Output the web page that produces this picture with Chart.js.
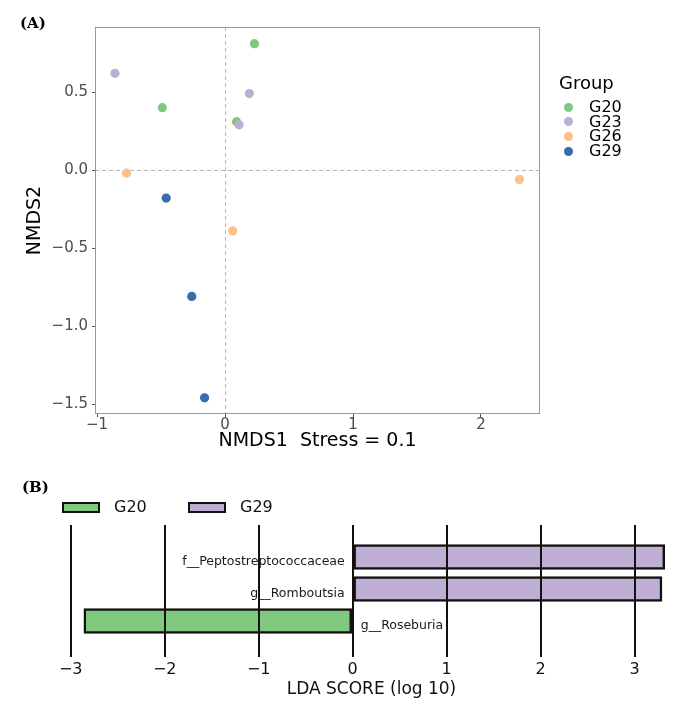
<!DOCTYPE html>
<html>
<head>
<meta charset="utf-8">
<script src="https://cdn.jsdelivr.net/npm/chart.js@4/dist/chart.umd.min.js"></script>
<style>
  body { margin: 0; background: #fff; }
  #wrap { position: relative; width: 677px; height: 706px; overflow: hidden; font-family: "DejaVu Sans", sans-serif; color: #000; }
  canvas { position: absolute; left: 0; }
  #nmds { top: 0; }
  #lefse { top: 455px; }
  .tag { position: absolute; font-family: "DejaVu Serif", serif; font-weight: bold; font-size: 15px; line-height: 16px; }
  .abs { position: absolute; white-space: nowrap; }
</style>
</head>
<body>
<div id="wrap">
  <canvas id="nmds" width="677" height="455"></canvas>
  <canvas id="lefse" width="677" height="251"></canvas>
  <div class="tag" style="left:20px;top:15px">(A)</div>
  <div class="tag" style="left:22px;top:479px">(B)</div>
  <div id="legendA"></div>
  <div id="legendB"></div>
</div>
<script>
// panel A: NMDS ordination
const groups = ['G20', 'G23', 'G26', 'G29']
const groupColors = ['#7fc97f', '#beaed4', '#fdc086', '#386cb0']
const g20X = [0.23, -0.49, 0.09]
const g20Y = [0.81, 0.40, 0.31]
const g23X = [-0.86, 0.19, 0.11]
const g23Y = [0.62, 0.49, 0.29]
const g26X = [-0.77, 0.06, 2.30]
const g26Y = [-0.02, -0.39, -0.06]
const g29X = [-0.46, -0.26, -0.16]
const g29Y = [-0.18, -0.81, -1.46]
const nmdsXTicks = [-1, 0, 1, 2]
const nmdsYTicks = [-1.5, -1, -0.5, 0, 0.5]

// panel B: LEfSe LDA scores
const lefseTaxa = ['f__Peptostreptococcaceae', 'g__Romboutsia', 'g__Roseburia']
const lefseScores = [3.32, 3.29, -2.86]
const lefseClass = ['G29', 'G29', 'G20']
const lefseGroups = ['G20', 'G29']
const lefseColors = ['#7fc97f', '#beaed4']
const ldaTicks = [-3, -2, -1, 0, 1, 2, 3]

const FONT = '"DejaVu Sans", sans-serif'
const minus = s => s.replace('-', '\u2212')

const xs = [g20X, g23X, g26X, g29X]
const ys = [g20Y, g23Y, g26Y, g29Y]

const nmdsDecor = {
  id: 'nmdsDecor',
  beforeDatasetsDraw(chart) {
    const { ctx, chartArea: a, scales: { x, y } } = chart
    const px = Math.round(x.getPixelForValue(0)) + 0.5
    const py = Math.round(y.getPixelForValue(0)) + 0.5
    ctx.save()
    ctx.strokeStyle = '#b5b5b5'
    ctx.lineWidth = 1
    ctx.setLineDash([4, 3])
    ctx.beginPath()
    ctx.moveTo(px, a.top); ctx.lineTo(px, a.bottom)
    ctx.moveTo(a.left, py); ctx.lineTo(a.right, py)
    ctx.stroke()
    ctx.restore()
  },
  afterDraw(chart) {
    const { ctx, chartArea: a } = chart
    ctx.save()
    ctx.strokeStyle = '#999999'
    ctx.lineWidth = 1
    ctx.strokeRect(a.left + 0.5, a.top + 0.5, a.right - a.left - 1, a.bottom - a.top - 1)
    ctx.restore()
  }
}

new Chart(document.getElementById('nmds'), {
  type: 'scatter',
  data: {
    datasets: groups.map((g, i) => ({
      label: g,
      data: xs[i].map((v, j) => ({ x: v, y: ys[i][j] })),
      backgroundColor: groupColors[i],
      borderWidth: 0,
      pointRadius: 4.6,
      order: -i
    }))
  },
  options: {
    responsive: false,
    animation: false,
    layout: { padding: { top: 27, right: 137, left: 0, bottom: 0 } },
    plugins: { legend: { display: false }, tooltip: { enabled: false } },
    scales: {
      x: {
        type: 'linear', min: -1.016, max: 2.461,
        afterBuildTicks: s => { s.ticks = nmdsXTicks.map(v => ({ value: v })) },
        afterFit: s => { s.height = 41 },
        ticks: { callback: v => minus(String(v)), font: { family: FONT, size: 15, lineHeight: 1 }, color: '#4d4d4d', padding: 1, maxRotation: 0 },
        grid: { drawOnChartArea: false, drawTicks: true, tickLength: 3, color: '#555' },
        border: { display: false },
        title: { display: true, text: 'NMDS1  Stress = 0.1', font: { family: FONT, size: 19 }, color: '#000', padding: { top: 0, bottom: 2.6 } }
      },
      y: {
        type: 'linear', min: -1.564, max: 0.917,
        afterBuildTicks: s => { s.ticks = nmdsYTicks.map(v => ({ value: v })) },
        afterFit: s => { s.width = 95 },
        ticks: { callback: v => minus(v.toFixed(1)), font: { family: FONT, size: 15 }, color: '#4d4d4d', padding: 4 },
        grid: { drawOnChartArea: false, drawTicks: true, tickLength: 3, color: '#555' },
        border: { display: false },
        title: { display: true, text: 'NMDS2', font: { family: FONT, size: 19 }, color: '#000', padding: { top: 23.5, bottom: 0 } }
      }
    }
  },
  plugins: [nmdsDecor]
})

// legend A
const legA = document.getElementById('legendA')
let html = '<div class="abs" style="left:559px;top:72px;font-size:18px;line-height:22px">Group</div>'
groups.forEach((g, i) => {
  const c = 107 + i * 14.67
  html += `<div class="abs" style="left:564px;top:${c - 4.5}px;width:9px;height:9px;border-radius:50%;background:${groupColors[i]}"></div>`
  html += `<div class="abs" style="left:589px;top:${c - 8}px;font-size:16px;line-height:16px">${g}</div>`
})
legA.innerHTML = html

const barLabels = {
  id: 'barLabels',
  afterDatasetsDraw(chart) {
    const { ctx, scales: { x } } = chart
    const zero = x.getPixelForValue(0)
    const meta = chart.getDatasetMeta(0)
    ctx.save()
    ctx.font = '12.5px ' + FONT
    ctx.fillStyle = '#1a1a1a'
    ctx.textBaseline = 'middle'
    meta.data.forEach((bar, i) => {
      const pos = lefseScores[i] >= 0
      ctx.textAlign = pos ? 'right' : 'left'
      ctx.fillText(lefseTaxa[i], pos ? zero - 8 : zero + 8, bar.y + 5)
    })
    ctx.restore()
  }
}

new Chart(document.getElementById('lefse'), {
  type: 'bar',
  data: {
    datasets: [{
      label: 'LDA',
      data: lefseScores.map((s, i) => ({ x: s, y: i })),
      backgroundColor: lefseClass.map(c => lefseColors[lefseGroups.indexOf(c)]),
      borderColor: '#111',
      borderWidth: 2.5,
      borderSkipped: false,
      barThickness: 25
    }]
  },
  options: {
    indexAxis: 'y',
    responsive: false,
    animation: false,
    layout: { padding: { top: 70, right: 0, left: 66, bottom: 0 } },
    plugins: { legend: { display: false }, tooltip: { enabled: false } },
    scales: {
      x: {
        type: 'linear', min: -3.05, max: 3.45,
        afterBuildTicks: s => { s.ticks = ldaTicks.map(v => ({ value: v })) },
        afterFit: s => { s.height = 49 },
        ticks: { callback: v => minus(String(v)), font: { family: FONT, size: 16, lineHeight: 1 }, color: '#111', padding: 5, maxRotation: 0 },
        grid: { color: '#111', lineWidth: 2, drawTicks: false, z: 1 },
        border: { display: false },
        title: { display: true, text: 'LDA SCORE (log 10)', font: { family: FONT, size: 17 }, color: '#111', padding: { top: 0, bottom: 5.8 } }
      },
      y: { type: 'linear', reverse: true, offset: false, min: -1, max: 3.125, display: false, grid: { offset: false } }
    }
  },
  plugins: [barLabels]
})

// legend B
const legB = document.getElementById('legendB')
const legBx = [[62, 114], [188, 240]]
legB.innerHTML = lefseGroups.map((g, i) =>
  `<div class="abs" style="left:${legBx[i][0]}px;top:501.5px;width:38px;height:11px;box-sizing:border-box;border:2.7px solid #111;background:${lefseColors[i]}"></div>` +
  `<div class="abs" style="left:${legBx[i][1]}px;top:499px;font-size:16px;line-height:16px;color:#111">${g}</div>`
).join('')
</script>
</body>
</html>
